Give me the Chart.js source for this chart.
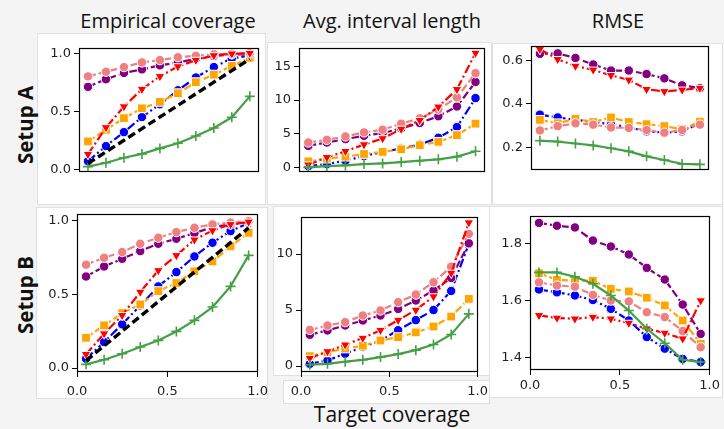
<!DOCTYPE html>
<html><head><meta charset="utf-8">
<script src="https://cdn.jsdelivr.net/npm/chart.js@4.4.0/dist/chart.umd.min.js"></script>
<style>
html,body{margin:0;padding:0;background:#f4f4f4;}
body{width:724px;height:429px;position:relative;overflow:hidden;font-family:"Open Sans",sans-serif;}
.card{position:absolute;background:#fff;border:1px solid #e0e0e0;box-sizing:border-box;}
canvas{position:absolute;}
.t{position:absolute;color:#111;white-space:nowrap;transform:translate(-50%,-50%);font-size:20px;}
.r{transform:translate(-50%,-50%) rotate(-90deg);font-weight:bold;font-size:20.5px;}
</style></head><body>
<div class="card" style="left:37px;top:33px;width:229px;height:172px"></div>
<div class="card" style="left:267px;top:42px;width:225px;height:163px"></div>
<div class="card" style="left:492px;top:43px;width:231px;height:162px"></div>
<div class="card" style="left:36px;top:207px;width:232px;height:192px"></div>
<div class="card" style="left:273px;top:206px;width:217px;height:170px"></div>
<div class="card" style="left:283px;top:380px;width:207px;height:24px"></div>
<div class="card" style="left:489px;top:206px;width:234px;height:192px"></div>

<div class="t" style="left:168px;top:20px">Empirical coverage</div>
<div class="t" style="left:392px;top:20px">Avg. interval length</div>
<div class="t" style="left:618px;top:20px">RMSE</div>
<div class="t r" style="left:25px;top:125px">Setup A</div>
<div class="t r" style="left:25px;top:295px">Setup B</div>
<div class="t" style="left:392px;top:414px;font-size:21px">Target coverage</div>

<canvas id="a1" width="226" height="175" style="left:40px;top:37px"></canvas>
<canvas id="a2" width="222" height="175" style="left:270px;top:37px"></canvas>
<canvas id="a3" width="222" height="175" style="left:494px;top:35px"></canvas>
<canvas id="b1" width="235" height="199" style="left:40px;top:203px"></canvas>
<canvas id="b2" width="222" height="196" style="left:273px;top:206px"></canvas>
<canvas id="b3" width="230" height="195" style="left:493px;top:205px"></canvas>
<script>
// ---------- data ----------
const targetCoverage = [0.05,0.15,0.25,0.35,0.45,0.55,0.65,0.75,0.85,0.95];
const nominalCoverage = [0.05,0.15,0.25,0.35,0.45,0.55,0.65,0.75,0.85,0.95];
const xTicks = [0, 0.5, 1.0];

// Setup A - Empirical coverage
const covA_pink   = [0.80,0.84,0.88,0.92,0.94,0.965,0.977,0.99,0.995,1.0];
const covA_purple = [0.71,0.775,0.83,0.86,0.895,0.92,0.95,0.975,0.99,0.99];
const covA_red    = [0.13,0.36,0.54,0.69,0.80,0.885,0.94,0.98,0.995,1.0];
const covA_blue   = [0.07,0.20,0.32,0.45,0.56,0.68,0.79,0.88,0.955,0.98];
const covA_orange = [0.24,0.34,0.44,0.525,0.58,0.655,0.75,0.815,0.89,0.96];
const covA_green  = [0.023,0.057,0.10,0.133,0.18,0.225,0.287,0.356,0.448,0.628];
// Setup A - Avg. interval length
const lenA_pink   = [3.7,4.1,4.6,5.2,5.6,6.5,7.3,8.6,10.4,14.0];
const lenA_purple = [3.2,3.7,4.2,4.7,5.1,5.8,6.6,7.6,9.05,12.7];
const lenA_red    = [0.4,1.5,2.4,3.4,4.3,5.7,7.0,9.0,11.6,17.0];
const lenA_blue   = [0.2,0.5,1.0,1.7,2.3,2.8,3.4,4.4,6.0,10.3];
const lenA_orange = [0.9,1.3,1.6,2.0,2.3,2.7,3.3,3.8,4.8,6.5];
const lenA_green  = [0.0,0.2,0.3,0.5,0.6,0.8,1.0,1.2,1.6,2.4];
// Setup A - RMSE
const rmseA_pink   = [0.278,0.298,0.311,0.305,0.292,0.29,0.28,0.268,0.28,0.305];
const rmseA_purple = [0.631,0.633,0.612,0.582,0.554,0.554,0.538,0.518,0.486,0.473];
const rmseA_red    = [0.652,0.606,0.575,0.557,0.532,0.511,0.468,0.458,0.465,0.473];
const rmseA_blue   = [0.351,0.338,0.327,0.317,0.307,0.292,0.274,0.268,0.274,0.31];
const rmseA_orange = [0.327,0.311,0.332,0.317,0.338,0.317,0.307,0.298,0.284,0.319];
const rmseA_green  = [0.231,0.227,0.218,0.209,0.196,0.182,0.159,0.142,0.124,0.122];
// Setup B - Empirical coverage
const covB_pink   = [0.70,0.747,0.786,0.842,0.883,0.921,0.95,0.973,0.986,0.995];
const covB_purple = [0.62,0.688,0.74,0.792,0.842,0.876,0.914,0.955,0.973,0.99];
const covB_red    = [0.093,0.233,0.357,0.515,0.661,0.763,0.869,0.932,0.973,0.99];
const covB_blue   = [0.063,0.176,0.296,0.424,0.553,0.65,0.756,0.849,0.928,0.982];
const covB_orange = [0.205,0.289,0.372,0.431,0.521,0.576,0.655,0.722,0.824,0.916];
const covB_green  = [0.025,0.056,0.097,0.142,0.187,0.248,0.323,0.413,0.553,0.763];
// Setup B - Avg. interval length
const lenB_pink   = [3.23,3.62,3.92,4.51,4.96,5.7,6.38,7.48,8.87,11.8];
const lenB_purple = [2.79,3.18,3.62,4.07,4.51,5.1,5.85,6.74,7.86,10.95];
const lenB_red    = [0.7,1.3,1.9,2.5,3.2,4.1,5.0,6.2,8.3,12.8];
const lenB_blue   = [0.2,0.5,1.1,1.7,2.3,3.2,4.1,5.0,6.7,10.9];
const lenB_orange = [0.89,1.22,1.57,1.81,2.28,2.58,3.0,3.53,4.42,5.99];
const lenB_green  = [0.12,0.2,0.39,0.56,0.8,1.07,1.42,1.93,2.82,4.66];
// Setup B - RMSE
const rmseB_pink   = [1.665,1.654,1.65,1.621,1.601,1.598,1.56,1.543,1.494,1.437];
const rmseB_purple = [1.874,1.864,1.858,1.812,1.791,1.763,1.716,1.675,1.587,1.484];
const rmseB_red    = [1.549,1.54,1.537,1.543,1.537,1.522,1.502,1.487,1.467,1.601];
const rmseB_blue   = [1.64,1.63,1.619,1.603,1.572,1.531,1.473,1.432,1.396,1.385];
const rmseB_orange = [1.697,1.674,1.671,1.671,1.642,1.633,1.611,1.584,1.531,1.449];
const rmseB_green  = [1.70,1.70,1.685,1.66,1.619,1.566,1.502,1.451,1.393,1.385];

// y tick labels per panel
const yTicksCov = [0, 0.5, 1.0];
const yTicksLenA = [0, 5, 10, 15];
const yTicksLenB = [0, 5, 10];
const yTicksRmseA = [0.2, 0.4, 0.6];
const yTicksRmseB = [1.4, 1.6, 1.8];

// ---------- styles ----------
const styles = {
  green:  {color:'#45a045', point:'cross', r:5, rot:0, dash:[], pb:'#45a045', pbw:1.6},
  red:    {color:'#ff0000', point:'triangle', r:5.6, rot:180, dash:[9,3,2,3], pb:'#ffffff', pbw:1},
  pink:   {color:'#f08080', point:'circle', r:4.7, rot:0, dash:[8,3], pb:'#ffffff', pbw:1},
  purple: {color:'#800080', point:'circle', r:4.7, rot:0, dash:[8,3], pb:'#ffffff', pbw:1},
  orange: {color:'#ffa500', point:'rect', r:6.2, rot:0, dash:[8,3], pb:'#ffffff', pbw:1},
  blue:   {color:'#0000ff', point:'circle', r:4.7, rot:0, dash:[9,3,2,3], pb:'#ffffff', pbw:1}
};
const order = ['green','red','pink','purple','orange','blue'];

function pts(arr){ return targetCoverage.map((x,i)=>({x:x, y:arr[i]})); }
function makeDatasets(series, withNominal){
  const ds = [];
  if (withNominal) ds.push({data: pts(nominalCoverage), borderColor:'#000', borderWidth:3.4, borderDash:[8,4], pointRadius:0, fill:false});
  order.forEach(k=>{
    const s = styles[k];
    ds.push({data: pts(series[k]), borderColor:s.color, backgroundColor:s.color, borderWidth:2.2, borderDash:s.dash,
      pointStyle:s.point, pointRadius:s.r, pointRotation:s.rot, pointBackgroundColor:s.color,
      pointBorderColor:s.pb, pointBorderWidth:s.pbw, fill:false, tension:0});
  });
  return ds;
}

const frame = {id:'frame', afterDatasetsDraw(chart){
  const a = chart.chartArea, c = chart.ctx;
  c.save(); c.strokeStyle='#000'; c.lineWidth=1.2;
  c.strokeRect(Math.round(a.left)+0.5, Math.round(a.top)+0.5, Math.round(a.right-a.left)-1, Math.round(a.bottom-a.top)-1);
  c.restore();
}};
const tickFont = {family:'"DejaVu Sans", sans-serif', size:13};

function panel(id, series, opt){
  new Chart(document.getElementById(id), {
    type:'line',
    data:{datasets: makeDatasets(series, opt.nominal)},
    options:{
      responsive:false, animation:false, devicePixelRatio:1,
      layout:{padding:{top:10, right:opt.showX?12:4, bottom:opt.showX?0:10, left:0}},
      plugins:{legend:{display:false}, tooltip:{enabled:false}},
      scales:{
        x:{type:'linear', min:0, max:1, display:opt.showX,
           afterBuildTicks:s=>{s.ticks = xTicks.map(v=>({value:v}));},
           afterFit:s=>{s.height = 30;},
           ticks:{font:tickFont, color:'#222', padding:opt.xPad||7, maxRotation:0, autoSkip:false, callback:v=>v.toFixed(1)},
           grid:{drawOnChartArea:false, drawTicks:true, tickLength:5, color:'#000'},
           border:{display:false}},
        y:{type:'linear', min:opt.min, max:opt.max,
           afterBuildTicks:s=>{s.ticks = opt.ticks.map(v=>({value:v}));},
           afterFit:s=>{s.width = opt.yW;},
           ticks:{font:tickFont, color:'#222', padding:3, autoSkip:false, callback:opt.fmt},
           grid:{drawOnChartArea:false, drawTicks:true, tickLength:5, color:'#000'},
           border:{display:false}}
      }
    },
    plugins:[frame]
  });
}
const f1 = v=>v.toFixed(1), f0 = v=>String(v);

panel('a1', {green:covA_green, red:covA_red, pink:covA_pink, purple:covA_purple, orange:covA_orange, blue:covA_blue},
  {nominal:true, showX:false, min:-0.023, max:1.046, ticks:yTicksCov, fmt:f1, yW:39});
panel('a2', {green:lenA_green, red:lenA_red, pink:lenA_pink, purple:lenA_purple, orange:lenA_orange, blue:lenA_blue},
  {nominal:false, showX:false, min:-0.68, max:17.77, ticks:yTicksLenA, fmt:f0, yW:29});
panel('a3', {green:rmseA_green, red:rmseA_red, pink:rmseA_pink, purple:rmseA_purple, orange:rmseA_orange, blue:rmseA_blue},
  {nominal:false, showX:false, min:0.096, max:0.668, ticks:yTicksRmseA, fmt:f1, yW:37});
panel('b1', {green:covB_green, red:covB_red, pink:covB_pink, purple:covB_purple, orange:covB_orange, blue:covB_blue},
  {nominal:true, showX:true, min:-0.027, max:1.045, ticks:yTicksCov, fmt:f1, yW:37});
panel('b2', {green:lenB_green, red:lenB_red, pink:lenB_pink, purple:lenB_purple, orange:lenB_orange, blue:lenB_blue},
  {nominal:false, showX:true, min:-0.53, max:13.32, ticks:yTicksLenB, fmt:f0, yW:28});
panel('b3', {green:rmseB_green, red:rmseB_red, pink:rmseB_pink, purple:rmseB_purple, orange:rmseB_orange, blue:rmseB_blue},
  {nominal:false, showX:true, min:1.357, max:1.899, ticks:yTicksRmseB, fmt:f1, yW:37, xPad:3});
</script>
</body></html>
